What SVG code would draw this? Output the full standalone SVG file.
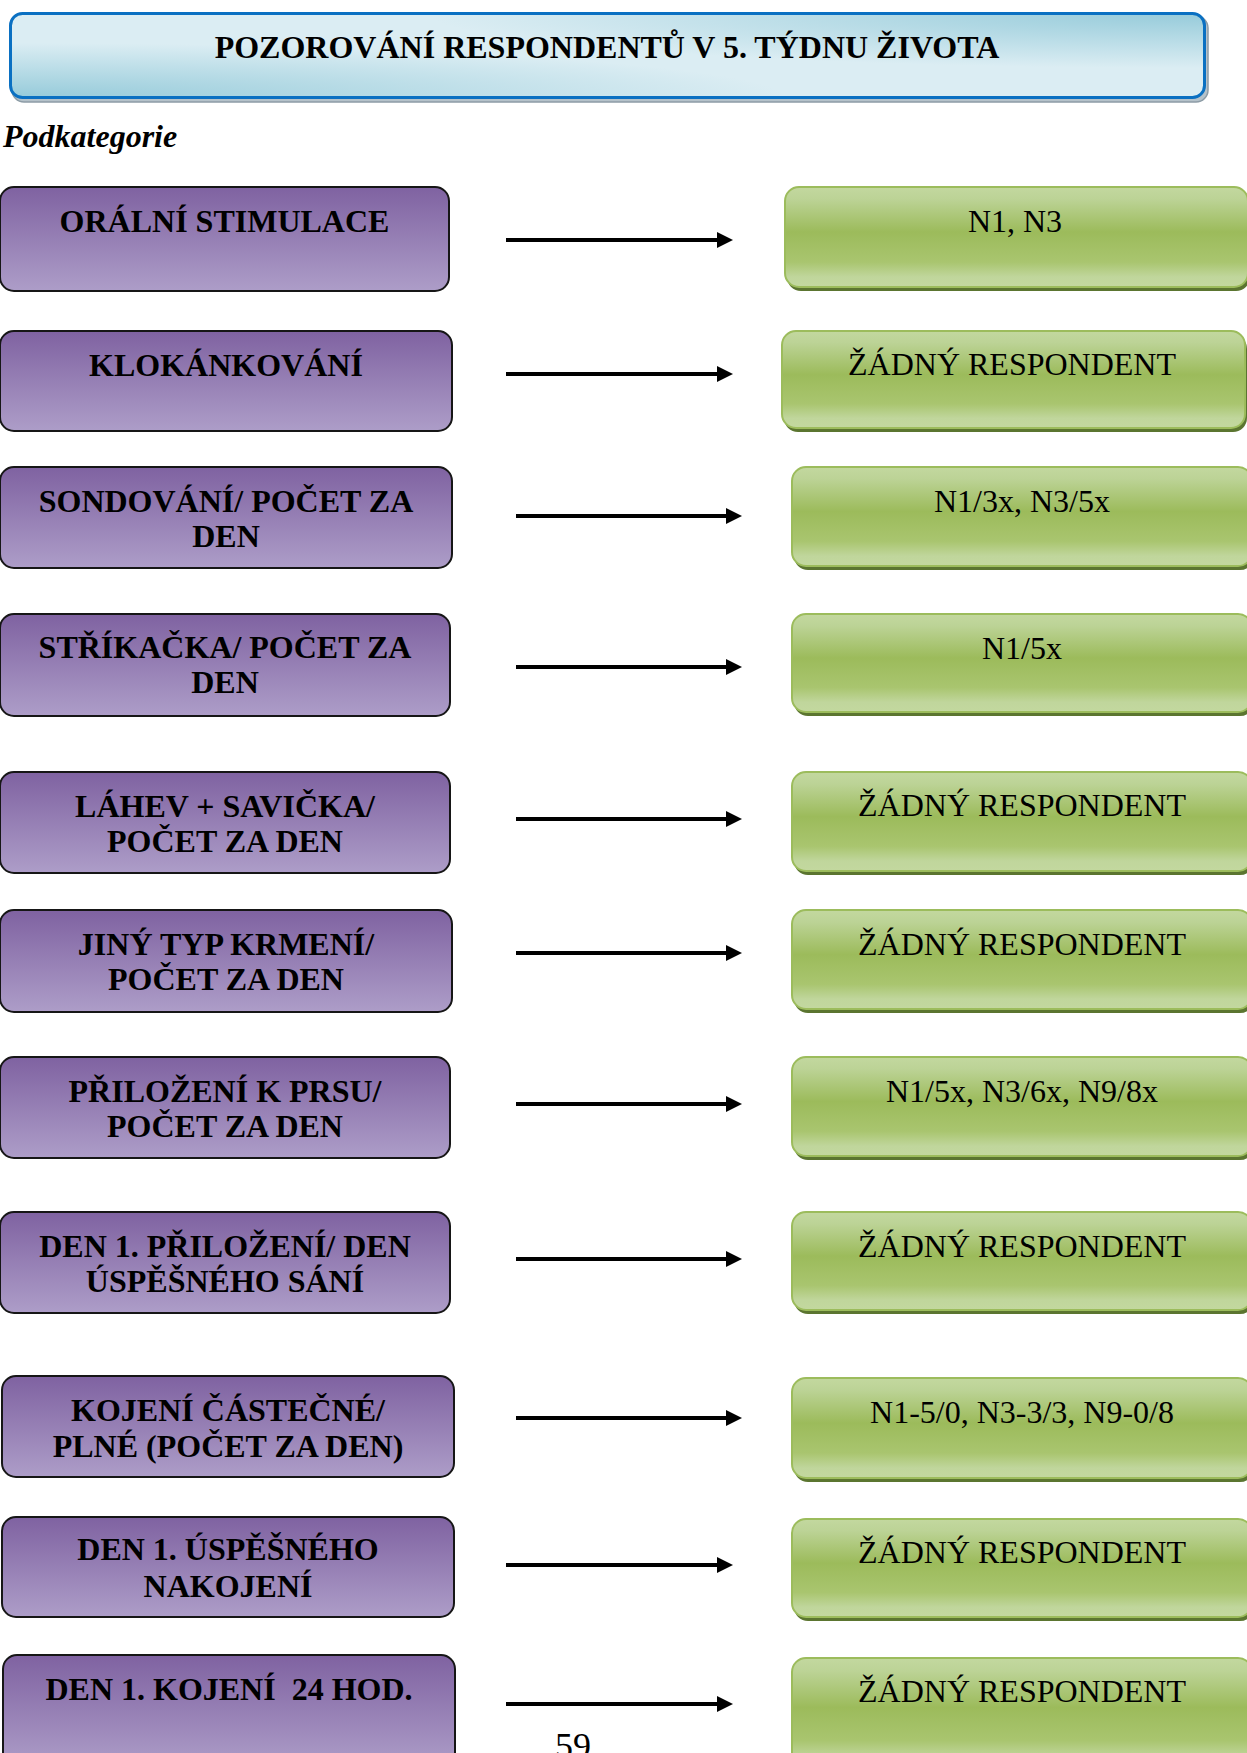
<svg xmlns="http://www.w3.org/2000/svg" width="1247" height="1753" viewBox="0 0 1247 1753">
<defs>
<style>
.pt{font-family:"Liberation Serif","Times New Roman",serif;font-weight:bold;font-size:32px;text-anchor:middle;fill:#000}
.gt{font-family:"Liberation Serif","Times New Roman",serif;font-size:32px;text-anchor:middle;fill:#000}
.pb{fill:url(#pg);stroke:#161616;stroke-width:2}
.gs{fill:#5b7530}
.gb{fill:url(#gg);stroke:#9cbc5c;stroke-width:2}
.ar{stroke:#000;stroke-width:3.8;fill:none;marker-end:url(#ah)}
</style>
<linearGradient id="pg" x1="0" y1="0" x2="0" y2="1">
<stop offset="0" stop-color="#7f62a1"/>
<stop offset="1" stop-color="#ad9dc8"/>
</linearGradient>
<linearGradient id="gg" x1="0" y1="0" x2="0" y2="1">
<stop offset="0" stop-color="#c3d89f"/>
<stop offset="0.12" stop-color="#bcd396"/>
<stop offset="0.45" stop-color="#9cbb5b"/>
<stop offset="0.75" stop-color="#a9c56f"/>
<stop offset="0.9" stop-color="#c0d69c"/>
<stop offset="1" stop-color="#c3d89f"/>
</linearGradient>
<radialGradient id="tbl" cx="0" cy="1" r="0.65">
<stop offset="0" stop-color="#96cbda" stop-opacity="1"/>
<stop offset="1" stop-color="#96cbda" stop-opacity="0"/>
</radialGradient>
<radialGradient id="ttr" cx="1" cy="0" r="0.65">
<stop offset="0" stop-color="#96cbda" stop-opacity="1"/>
<stop offset="1" stop-color="#96cbda" stop-opacity="0"/>
</radialGradient>
<marker id="ah" markerUnits="userSpaceOnUse" markerWidth="18" markerHeight="18" refX="0" refY="8" orient="auto" viewBox="0 0 18 16">
<path d="M0,0 L16,8 L0,16 Z" fill="#000"/>
</marker>
</defs>
<rect width="1247" height="1753" fill="#fff"/>

<g id="title">
<rect x="12" y="16" width="1196" height="86" rx="12" fill="#b5c2ca" stroke="#8d9ca6" stroke-width="1.5"/>
<rect x="10.5" y="13.5" width="1194" height="84" rx="12" fill="#dbedf3"/>
<rect x="10.5" y="13.5" width="1194" height="84" rx="12" fill="url(#tbl)"/>
<rect x="10.5" y="13.5" width="1194" height="84" rx="12" fill="url(#ttr)"/>
<rect x="10.5" y="13.5" width="1194" height="84" rx="12" fill="none" stroke="#0a70c2" stroke-width="3"/>
<text x="607" y="58" class="pt">POZOROVÁNÍ RESPONDENTŮ V 5. TÝDNU ŽIVOTA</text>
</g>

<text id="subtitle" x="3" y="147" font-family="'Liberation Serif','Times New Roman',serif" font-weight="bold" font-style="italic" font-size="32">Podkategorie</text>

<g id="connectors">
<line class="ar" x1="506" y1="240" x2="717" y2="240"/>
<line class="ar" x1="506" y1="374" x2="717" y2="374"/>
<line class="ar" x1="516" y1="516" x2="726" y2="516"/>
<line class="ar" x1="516" y1="667" x2="726" y2="667"/>
<line class="ar" x1="516" y1="819" x2="726" y2="819"/>
<line class="ar" x1="516" y1="953" x2="726" y2="953"/>
<line class="ar" x1="516" y1="1104" x2="726" y2="1104"/>
<line class="ar" x1="516" y1="1259" x2="726" y2="1259"/>
<line class="ar" x1="516" y1="1418" x2="726" y2="1418"/>
<line class="ar" x1="506" y1="1565" x2="717" y2="1565"/>
<line class="ar" x1="506" y1="1704" x2="717" y2="1704"/>
</g>

<g id="p1"><rect class="pb" x="0" y="187" width="449" height="104" rx="14"/><text class="pt" x="224.5" y="232">ORÁLNÍ STIMULACE</text></g>
<g id="p2"><rect class="pb" x="0" y="331" width="452" height="100" rx="14"/><text class="pt" x="226" y="376">KLOKÁNKOVÁNÍ</text></g>
<g id="p3"><rect class="pb" x="0" y="467" width="452" height="101" rx="14"/><text class="pt" x="226" y="512">SONDOVÁNÍ/ POČET ZA</text><text class="pt" x="226" y="547">DEN</text></g>
<g id="p4"><rect class="pb" x="0" y="614" width="450" height="102" rx="14"/><text class="pt" x="225" y="658">STŘÍKAČKA/ POČET ZA</text><text class="pt" x="225" y="693">DEN</text></g>
<g id="p5"><rect class="pb" x="0" y="772" width="450" height="101" rx="14"/><text class="pt" x="225" y="817">LÁHEV + SAVIČKA/</text><text class="pt" x="225" y="852">POČET ZA DEN</text></g>
<g id="p6"><rect class="pb" x="0" y="910" width="452" height="102" rx="14"/><text class="pt" x="226" y="955">JINÝ TYP KRMENÍ/</text><text class="pt" x="226" y="990">POČET ZA DEN</text></g>
<g id="p7"><rect class="pb" x="0" y="1057" width="450" height="101" rx="14"/><text class="pt" x="225" y="1102">PŘILOŽENÍ K PRSU/</text><text class="pt" x="225" y="1137">POČET ZA DEN</text></g>
<g id="p8"><rect class="pb" x="0" y="1212" width="450" height="101" rx="14"/><text class="pt" x="225" y="1257">DEN 1. PŘILOŽENÍ/ DEN</text><text class="pt" x="225" y="1292">ÚSPĚŠNÉHO SÁNÍ</text></g>
<g id="p9"><rect class="pb" x="2" y="1376" width="452" height="101" rx="14"/><text class="pt" x="228" y="1421">KOJENÍ ČÁSTEČNÉ/</text><text class="pt" x="228" y="1457">PLNÉ (POČET ZA DEN)</text></g>
<g id="p10"><rect class="pb" x="2" y="1517" width="452" height="100" rx="14"/><text class="pt" x="228" y="1560">DEN 1. ÚSPĚŠNÉHO</text><text class="pt" x="228" y="1597">NAKOJENÍ</text></g>
<g id="p11"><rect class="pb" x="3" y="1655" width="452" height="112" rx="14"/><text class="pt" x="229" y="1700" style="white-space:pre">DEN 1. KOJENÍ  24 HOD.</text></g>

<g id="g1"><rect class="gs" x="787" y="191" width="463" height="100" rx="14"/><rect class="gb" x="785" y="187" width="463" height="100" rx="14"/><text class="gt" x="1015" y="232">N1, N3</text></g>
<g id="g2"><rect class="gs" x="784" y="335" width="463" height="97" rx="14"/><rect class="gb" x="782" y="331" width="463" height="97" rx="14"/><text class="gt" x="1012" y="375">ŽÁDNÝ RESPONDENT</text></g>
<g id="g3"><rect class="gs" x="794" y="471" width="460" height="99" rx="14"/><rect class="gb" x="792" y="467" width="460" height="99" rx="14"/><text class="gt" x="1022" y="512">N1/3x, N3/5x</text></g>
<g id="g4"><rect class="gs" x="794" y="618" width="460" height="98" rx="14"/><rect class="gb" x="792" y="614" width="460" height="98" rx="14"/><text class="gt" x="1022" y="659">N1/5x</text></g>
<g id="g5"><rect class="gs" x="794" y="776" width="460" height="99" rx="14"/><rect class="gb" x="792" y="772" width="460" height="99" rx="14"/><text class="gt" x="1022" y="816">ŽÁDNÝ RESPONDENT</text></g>
<g id="g6"><rect class="gs" x="794" y="914" width="460" height="99" rx="14"/><rect class="gb" x="792" y="910" width="460" height="99" rx="14"/><text class="gt" x="1022" y="955">ŽÁDNÝ RESPONDENT</text></g>
<g id="g7"><rect class="gs" x="794" y="1061" width="460" height="99" rx="14"/><rect class="gb" x="792" y="1057" width="460" height="99" rx="14"/><text class="gt" x="1022" y="1102">N1/5x, N3/6x, N9/8x</text></g>
<g id="g8"><rect class="gs" x="794" y="1216" width="460" height="98" rx="14"/><rect class="gb" x="792" y="1212" width="460" height="98" rx="14"/><text class="gt" x="1022" y="1257">ŽÁDNÝ RESPONDENT</text></g>
<g id="g9"><rect class="gs" x="794" y="1382" width="460" height="100" rx="14"/><rect class="gb" x="792" y="1378" width="460" height="100" rx="14"/><text class="gt" x="1022" y="1423">N1-5/0, N3-3/3, N9-0/8</text></g>
<g id="g10"><rect class="gs" x="794" y="1523" width="460" height="98" rx="14"/><rect class="gb" x="792" y="1519" width="460" height="98" rx="14"/><text class="gt" x="1022" y="1563">ŽÁDNÝ RESPONDENT</text></g>
<g id="g11"><rect class="gs" x="794" y="1662" width="460" height="110" rx="14"/><rect class="gb" x="792" y="1658" width="460" height="110" rx="14"/><text class="gt" x="1022" y="1702">ŽÁDNÝ RESPONDENT</text></g>

<text id="page" x="555" y="1758" font-family="'Liberation Serif','Times New Roman',serif" font-size="36">59</text>
</svg>
